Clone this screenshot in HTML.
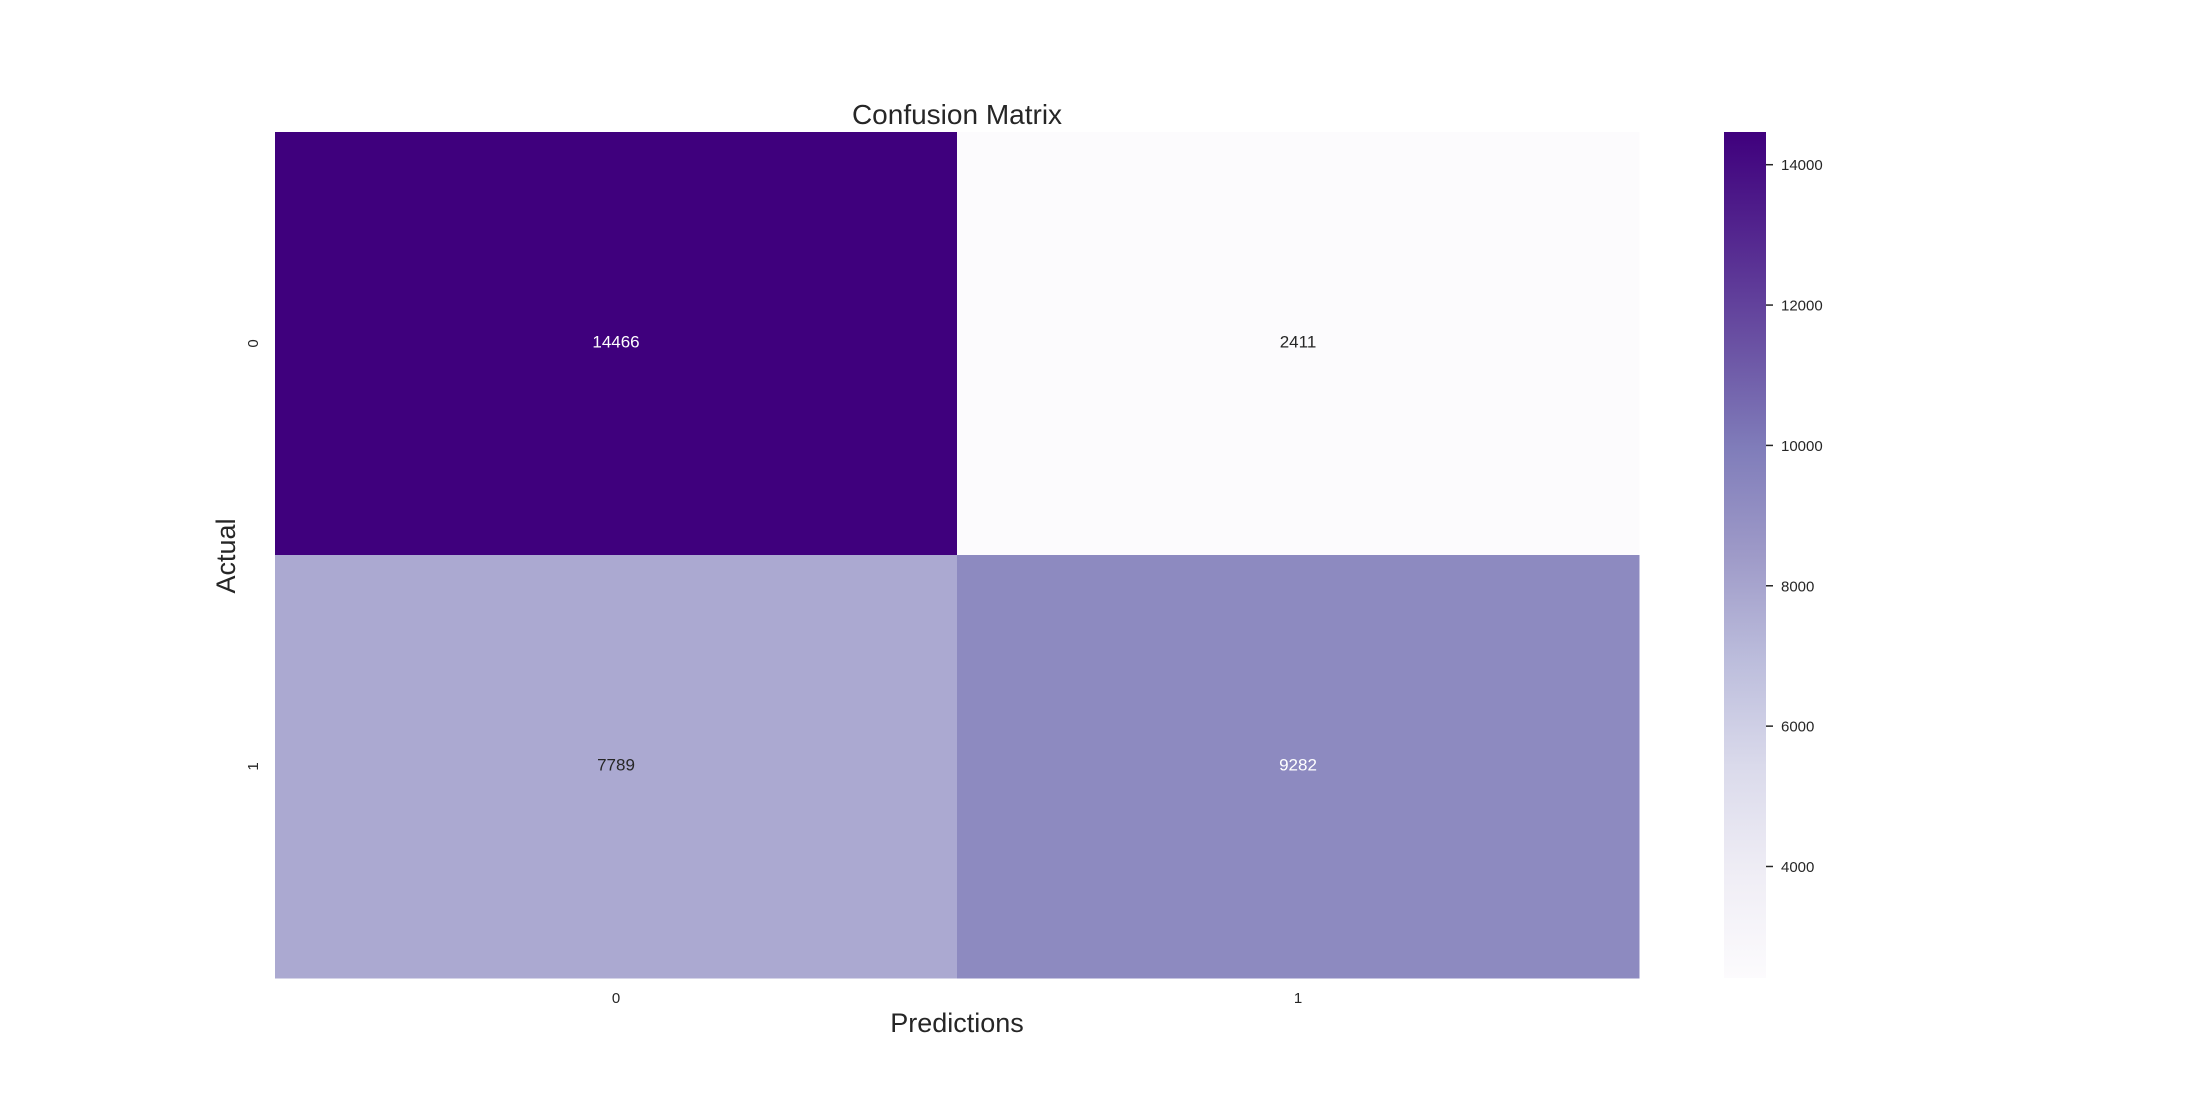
<!DOCTYPE html>
<html><head><meta charset="utf-8"><style>html,body{margin:0;padding:0;background:#fff}svg{display:block}</style></head>
<body>
<svg id="chart" width="2200" height="1100" xmlns="http://www.w3.org/2000/svg" font-family="Liberation Sans, Arial, sans-serif">
<defs>
<linearGradient id="cbGrad" x1="0" y1="1" x2="0" y2="0">
<stop offset="0" stop-color="#fcfbfd"/><stop offset="0.125" stop-color="#efedf5"/><stop offset="0.25" stop-color="#dadaeb"/><stop offset="0.375" stop-color="#bcbddc"/><stop offset="0.5" stop-color="#9e9ac8"/><stop offset="0.625" stop-color="#807dba"/><stop offset="0.75" stop-color="#6a51a3"/><stop offset="0.875" stop-color="#54278f"/><stop offset="1" stop-color="#3f007d"/>
</linearGradient>
</defs>
<text x="957" y="124" text-anchor="middle" font-size="28" fill="#262626">Confusion Matrix</text>
<text x="957" y="1032" text-anchor="middle" font-size="27" fill="#262626">Predictions</text>
<text transform="translate(235,556) rotate(-90)" text-anchor="middle" font-size="27" fill="#262626">Actual</text>
<g id="cells"></g>
<rect x="1724" y="132" width="42" height="846" fill="url(#cbGrad)"/>
<g id="cbticks"></g>
</svg>
<script>
const rowLabels = ['0','1'];
const colLabels = ['0','1'];
const values = [[14466, 2411],[7789, 9282]];
const cbTicks = [4000, 6000, 8000, 10000, 12000, 14000];

const NS = 'http://www.w3.org/2000/svg';
const L=275, R=1639, T=132, B=978;
const flat = values.flat();
const vmin = Math.min(...flat), vmax = Math.max(...flat);
const stops = ['#fcfbfd','#efedf5','#dadaeb','#bcbddc','#9e9ac8','#807dba','#6a51a3','#54278f','#3f007d'];
function hex(h){return [1,3,5].map(i=>parseInt(h.substr(i,2),16));}
function cmap(t){t=Math.max(0,Math.min(1,t));const p=t*(stops.length-1);const i=Math.min(Math.floor(p),stops.length-2);const f=p-i;const a=hex(stops[i]),b=hex(stops[i+1]);return 'rgb('+a.map((v,k)=>Math.round(v+(b[k]-v)*f)).join(',')+')';}
const cw=(R-L)/colLabels.length, ch=(B-T)/rowLabels.length;
const xPos=j=>L+j*cw, yPos=i=>T+i*ch;
const cells=document.getElementById('cells');
function mk(tag,attrs){const e=document.createElementNS(NS,tag);for(const k in attrs)e.setAttribute(k,attrs[k]);return e;}
values.forEach((row,i)=>row.forEach((v,j)=>{
  const t=(v-vmin)/(vmax-vmin);
  const r=mk('rect',{x:xPos(j),y:yPos(i),width:cw+0.5,height:ch+0.5,fill:cmap(t)});
  
  
  cells.appendChild(r);
  const tx=mk('text',{x:xPos(j)+cw/2,y:yPos(i)+ch/2+4,'text-anchor':'middle','font-size':17,fill:t>0.5?'#ffffff':'#262626'});
  tx.textContent=v;
  
  
  cells.appendChild(tx);
}));
rowLabels.forEach((lab,i)=>{
  const y=yPos(i)+ch/2;
  const tx=mk('text',{transform:'translate(258,'+y+') rotate(-90)','text-anchor':'middle','font-size':15,fill:'#262626'});
  tx.textContent=lab;
  
  
  cells.appendChild(tx);
});
colLabels.forEach((lab,j)=>{
  const tx=mk('text',{x:xPos(j)+cw/2,y:1003,'text-anchor':'middle','font-size':15,fill:'#262626'});
  tx.textContent=lab;
  
  
  cells.appendChild(tx);
});
const cb=document.getElementById('cbticks');
const cbY=v=>B-(v-vmin)/(vmax-vmin)*(B-T);
cbTicks.forEach(v=>{
  const y=cbY(v);
  const ln=mk('line',{x1:1766,x2:1773,y1:y,y2:y,stroke:'#262626','stroke-width':1.5});
  
  
  cb.appendChild(ln);
  const tx=mk('text',{x:1781,y:y+5.5,'font-size':15,fill:'#262626'});
  tx.textContent=v;
  
  
  cb.appendChild(tx);
});
</script>
</body></html>
